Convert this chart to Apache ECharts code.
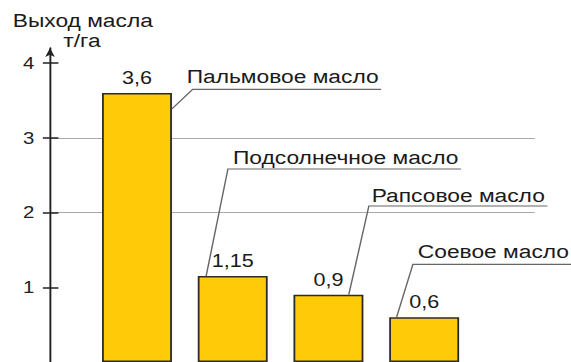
<!DOCTYPE html>
<html>
<head>
<meta charset="utf-8">
<script src="https://cdn.jsdelivr.net/npm/echarts@6/dist/echarts.min.js"></script>
<style>
  html, body { margin: 0; padding: 0; background: #fff; overflow: hidden; }
  #wrap { width: 571px; height: 362px; overflow: hidden; }
  #chart { width: 476px; height: 362px; transform: scaleX(1.19958); transform-origin: 0 0; }
</style>
</head>
<body>
<div id="wrap"><div id="chart"></div></div>
<script>
// ---- data ----
const categories = ['Пальмовое масло', 'Подсолнечное масло', 'Рапсовое масло', 'Соевое масло'];
const yields = [3.6, 1.15, 0.9, 0.6];
const tickValues = [1, 2, 3, 4];
const axisTitle = 'Выход масла';
const axisUnit = 'т/га';

// ---- layout / style (chart space, before horizontal CSS stretch) ----
const FONT = '"Liberation Sans", Arial, sans-serif';
const BAR_W = 58.3;
const Y_MAX = 4.2;
const callouts = [
  { tx: 155.6, ty: 76.0,  cx: 160.6, cy: 89.3,  edge: 'right', dx: 0,     dy: 16, uEnd: null },
  { tx: 194.2, ty: 157.3, cx: 190.0, cy: 169.0, edge: 'left',  dx: 7,     dy: 0,  uEnd: null },
  { tx: 309.8, ty: 195.6, cx: 307.5, cy: 206.0, edge: 'right', dx: -12.2, dy: 0,  uEnd: null },
  { tx: 348.3, ty: 251.6, cx: 344.2, cy: 264.3, edge: 'left',  dx: 6.2,   dy: 0,  uEnd: 480 }
];

const mctx = document.createElement('canvas').getContext('2d');
function textWidth(t, size) { mctx.font = size + 'px ' + FONT; return mctx.measureText(t).width; }

const chart = echarts.init(document.getElementById('chart'), null, { renderer: 'svg', width: 476, height: 362 });

const option = {
  animation: false,
  textStyle: { fontFamily: FONT },
  grid: [
    { left: 41.7, right: 30.2, top: 48.05, bottom: 0 },
    { left: 74.3, right: 82.5, top: 48.05, bottom: 0 }
  ],
  xAxis: [
    { type: 'category', gridIndex: 0, data: categories, show: false },
    { type: 'category', gridIndex: 1, data: categories, show: false }
  ],
  yAxis: [
    {
      type: 'value', gridIndex: 0, min: 0, max: Y_MAX, interval: 1, position: 'left',
      axisLine: { show: true, lineStyle: { color: '#222', width: 1.6 }, symbol: ['none', 'arrow'], symbolSize: [6, 9] },
      axisTick: { show: true, customValues: tickValues, length: 6, lineStyle: { color: '#222', width: 1.5 } },
      axisLabel: { show: true, customValues: tickValues, fontSize: 17, color: '#222', margin: 13, fontFamily: FONT },
      splitLine: { show: true, showMinLine: false, showMaxLine: false, lineStyle: { color: '#aaaaaa', width: 1 } }
    },
    {
      type: 'value', gridIndex: 0, min: 0, max: Y_MAX, interval: 1, position: 'left',
      axisLine: { show: false },
      axisTick: { show: true, inside: true, customValues: tickValues, length: 7, lineStyle: { color: '#222', width: 1.5 } },
      axisLabel: { show: false },
      splitLine: { show: false }
    },
    { type: 'value', gridIndex: 1, min: 0, max: Y_MAX, show: false, splitLine: { show: false } }
  ],
  graphic: [
    { type: 'text', x: 10.6, y: 19.8, style: { text: axisTitle, font: '19px ' + FONT, fill: '#1a1a1a', verticalAlign: 'middle', align: 'left' } },
    { type: 'text', x: 52.8, y: 40.3, style: { text: axisUnit, font: '19px ' + FONT, fill: '#1a1a1a', verticalAlign: 'middle', align: 'left' } }
  ],
  series: [
    {
      type: 'bar', xAxisIndex: 1, yAxisIndex: 2,
      data: yields,
      barWidth: BAR_W,
      itemStyle: { color: '#FFCA08', borderColor: '#2b2b2b', borderWidth: 1.5 },
      label: {
        show: true, position: 'top', distance: 6, fontSize: 18, color: '#1a1a1a', fontFamily: FONT,
        formatter: p => String(p.value).replace('.', ',')
      },
      z: 2
    },
    {
      type: 'custom', xAxisIndex: 1, yAxisIndex: 2, z: 5, clip: false,
      data: categories.map((c, i) => [i, yields[i]]),
      renderItem: function (params, api) {
        const i = params.dataIndex;
        const c = callouts[i];
        const p = api.coord([api.value(0), api.value(1)]);
        const half = BAR_W / 2;
        const ax = p[0] + (c.edge === 'right' ? half : -half) + c.dx;
        const ay = p[1] + c.dy;
        const tw = textWidth(categories[i], 19);
        const ux2 = c.uEnd != null ? c.uEnd : c.tx + tw + 2;
        return {
          type: 'group',
          children: [
            { type: 'polyline', shape: { points: [[ax, ay], [c.cx, c.cy], [ux2, c.cy]] },
              style: { stroke: '#666', lineWidth: 1.2, fill: null } },
            { type: 'text', x: c.tx, y: c.ty,
              style: { text: categories[i], font: '19px ' + FONT, fill: '#1a1a1a', verticalAlign: 'middle', align: 'left' } }
          ]
        };
      }
    }
  ]
};
chart.setOption(option);
</script>
</body>
</html>
